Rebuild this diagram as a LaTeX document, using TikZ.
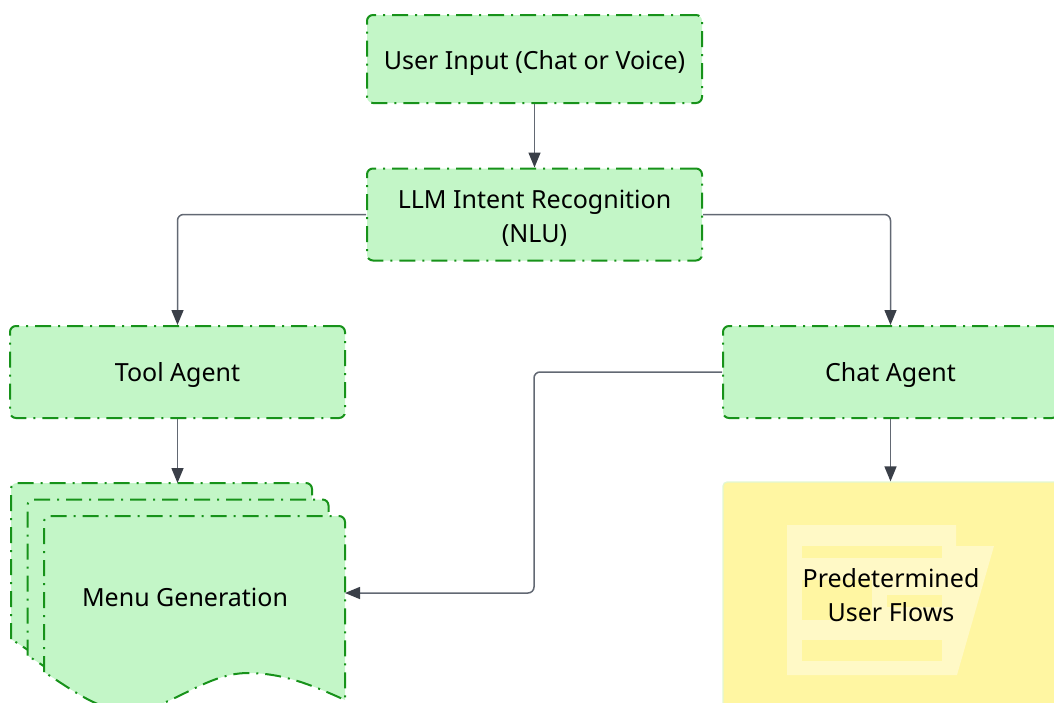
\documentclass[tikz,border=0pt]{standalone}
\usepackage{fontspec}
\setmainfont{Noto Sans}
\usetikzlibrary{arrows.meta}
\definecolor{boxfill}{HTML}{C3F6C7}
\definecolor{boxline}{HTML}{17921A}
\definecolor{connline}{HTML}{626873}
\definecolor{tipcol}{HTML}{3A3F48}
\definecolor{flowfill}{HTML}{FFF6A2}
\definecolor{iconfill}{HTML}{FFF9C6}
\definecolor{flowedge}{HTML}{E2F7D2}
\tikzset{
  dashdot/.style={dash pattern=on 8pt off 3.5pt on 1pt off 3.5pt},
  greenbox/.style={draw=boxline, fill=boxfill, line width=1pt, dashdot,
    rounded corners=3pt, minimum width=167.5pt, minimum height=46pt,
    align=center, font=\fontsize{12.5}{17}\selectfont, inner sep=0pt},
  page/.style={draw=boxline, fill=boxfill, line width=1pt, dashdot},
  conn/.style={draw=connline, line width=0.75pt, rounded corners=3pt,
    -{Triangle[length=7.5pt,width=6pt,color=tipcol]}},
  label/.style={align=center, font=\fontsize{12.5}{17}\selectfont, inner sep=0pt},
}
\newcommand{\menupage}[2]{%
  \path[page] (#1,#2+156) -- (#1,#2+6) arc[start angle=180,end angle=90,radius=3pt]
    -- (#1+295,#2) arc[start angle=90,end angle=0,radius=3pt]
    -- (#1+301,#2+184)
    .. controls (#1+270,#2+170) and (#1+240,#2+157) .. (#1+204,#2+157)
    .. controls (#1+160,#2+157) and (#1+125,#2+195) .. (#1+85,#2+195)
    .. controls (#1+55,#2+195) and (#1+30,#2+175) .. cycle;}
\begin{document}
\begin{tikzpicture}[x=0.5pt,y=-0.5pt]
\useasboundingbox (0,0) rectangle (1054,702);
\clip (0,0) rectangle (1054,702);

% boxes
\node[greenbox, minimum height=44pt, text height=10pt, text depth=0pt] (user) at (534.5,59) {User Input (Chat or Voice)};
\node[greenbox] (llm) at (534.5,214.5) {\rule{0pt}{13pt}LLM Intent Recognition\\(NLU)};
\node[greenbox, text height=9.4pt, text depth=0pt] (tool) at (177.5,372) {Tool Agent};
\node[greenbox, text height=9.4pt, text depth=0pt] (chat) at (890.5,372) {Chat Agent};

% menu generation (stacked documents)
\menupage{11}{483}
\menupage{27.5}{499.5}
\menupage{44}{516}
\node[label] (menu) at (185,597) {Menu Generation};
\coordinate (menutop) at (177.5,483);
\coordinate (menuright) at (345,593);

% predetermined user flows
\node[draw=flowedge, line width=0.6pt, fill=flowfill, rounded corners=2pt,
  minimum width=167.5pt, minimum height=120pt, inner sep=0pt] (flows) at (890.5,602) {};
\fill[iconfill] (787,525) -- (956,525) -- (956,546) -- (994,546) -- (957,675) -- (787,675) -- cycle;
\fill[flowfill] (802,546) rectangle (942,558);
\fill[flowfill] (802,580) rectangle (872,620);
\fill[flowfill] (887,595) rectangle (942,607);
\fill[flowfill] (802,640) rectangle (942,661);
\node[label] (flowstext) at (891,595) {Predetermined\\User Flows};

% connectors
\draw[conn] (user.south) -- (llm.north);
\draw[conn] (llm.west) -| (tool.north);
\draw[conn] (llm.east) -| (chat.north);
\draw[conn] (tool.south) -- (menutop);
\draw[conn] (chat.south) -- (flows.north);
\draw[conn] (chat.west) -- ++(-188,0) |- (menuright);
\end{tikzpicture}
\end{document}
